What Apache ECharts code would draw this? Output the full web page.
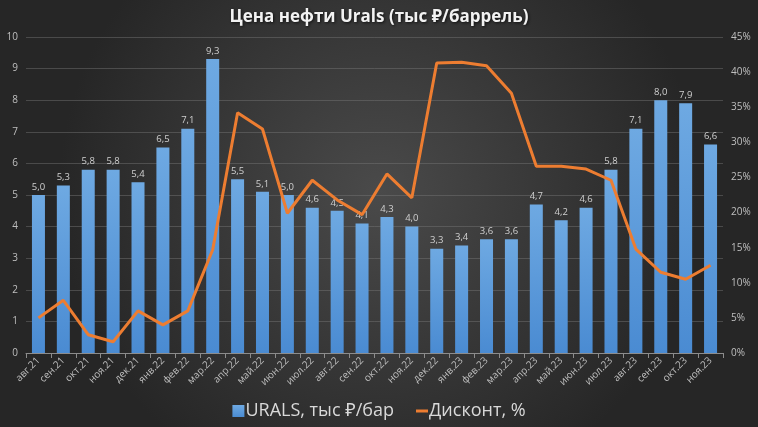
<!DOCTYPE html>
<html><head><meta charset="utf-8">
<script src="https://cdn.jsdelivr.net/npm/echarts@6/dist/echarts.min.js"></script>
<style>html,body{margin:0;padding:0;background:#333;}#c{width:758px;height:427px;}</style>
</head><body><div id="c"></div>
<script>
const categories = ['авг.21','сен.21','окт.21','ноя.21','дек.21','янв.22','фев.22','мар.22','апр.22','май.22','июн.22','июл.22','авг.22','сен.22','окт.22','ноя.22','дек.22','янв.23','фев.23','мар.23','апр.23','май.23','июн.23','июл.23','авг.23','сен.23','окт.23','ноя.23'];
const uralsValues = [5.0,5.3,5.8,5.8,5.4,6.5,7.1,9.3,5.5,5.1,5.0,4.6,4.5,4.1,4.3,4.0,3.3,3.4,3.6,3.6,4.7,4.2,4.6,5.8,7.1,8.0,7.9,6.6];
const discountValues = [5.0,7.5,2.6,1.6,6.0,4.0,6.0,14.7,34.2,31.9,19.9,24.6,21.8,19.7,25.5,22.1,41.3,41.4,40.9,37.0,26.6,26.6,26.2,24.6,14.8,11.5,10.5,12.5];
const leftTicks = {min:0, max:10, interval:1};
const rightTicks = {min:0, max:45, interval:5};

const chart = echarts.init(document.getElementById('c'), null, {renderer:'canvas'});
const font = 'Open Sans, Noto Sans, sans-serif';
chart.setOption({
  backgroundColor: {type:'radial', x:0.5, y:0.45, r:0.75, colorStops:[{offset:0,color:'#4a4a4a'},{offset:1,color:'#262626'}]},
  animation:false,
  title:{text:'Цена нефти Urals (тыс ₽/баррель)', left:'center', top:4,
    textStyle:{color:'#f2f2f2', fontSize:17, fontWeight:'bold', fontFamily:font, textShadowColor:'rgba(0,0,0,0.7)', textShadowBlur:3, textShadowOffsetX:1, textShadowOffsetY:1}},
  grid:{left:26, right:35, top:37, bottom:74, containLabel:false},
  legend:{bottom:2, left:'center', itemGap:22, itemWidth:12, itemHeight:12,
    textStyle:{color:'#d9d9d9', fontSize:18, fontFamily:font, padding:[0,0,0,-4]},
    data:[{name:'URALS, тыс ₽/бар', icon:'rect'},
          {name:'Дисконт, %', icon:'path://M0,0 L12,0 L12,3 L0,3 Z', itemStyle:{color:'#ed7d31'}}]},
  xAxis:{type:'category', data:categories,
    axisLine:{lineStyle:{color:'#8c8c8c'}},
    axisTick:{show:true, lineStyle:{color:'#8c8c8c'}},
    axisLabel:{color:'#bfbfbf', fontSize:10, rotate:45, fontFamily:font, interval:0, margin:6}},
  yAxis:[
    {type:'value', min:leftTicks.min, max:leftTicks.max, interval:leftTicks.interval,
      axisLine:{show:false}, axisTick:{show:false},
      axisLabel:{color:'#bfbfbf', fontSize:10, fontFamily:font, margin:8},
      splitLine:{lineStyle:{color:'rgba(120,120,120,0.45)', width:1}}},
    {type:'value', min:rightTicks.min, max:rightTicks.max, interval:rightTicks.interval,
      axisLine:{show:false}, axisTick:{show:false},
      axisLabel:{color:'#bfbfbf', fontSize:10, fontFamily:font, margin:8, formatter:'{value}%'},
      splitLine:{show:false}}
  ],
  series:[
    {name:'URALS, тыс ₽/бар', type:'bar', data:uralsValues, barWidth:13,
      itemStyle:{color:{type:'linear',x:0,y:0,x2:0,y2:1,colorStops:[{offset:0,color:'#6ea9e2'},{offset:1,color:'#4a8bd2'}]}},
      label:{show:true, position:'top', color:'#d0d0d0', fontSize:9.5, fontFamily:font, distance:3,
        formatter: p => p.value.toFixed(1).replace('.', ',')}},
    {name:'Дисконт, %', type:'line', yAxisIndex:1, data:discountValues,
      symbol:'none', lineStyle:{color:'#ed7d31', width:3}, itemStyle:{color:'#ed7d31'}}
  ]
});
</script></body></html>
